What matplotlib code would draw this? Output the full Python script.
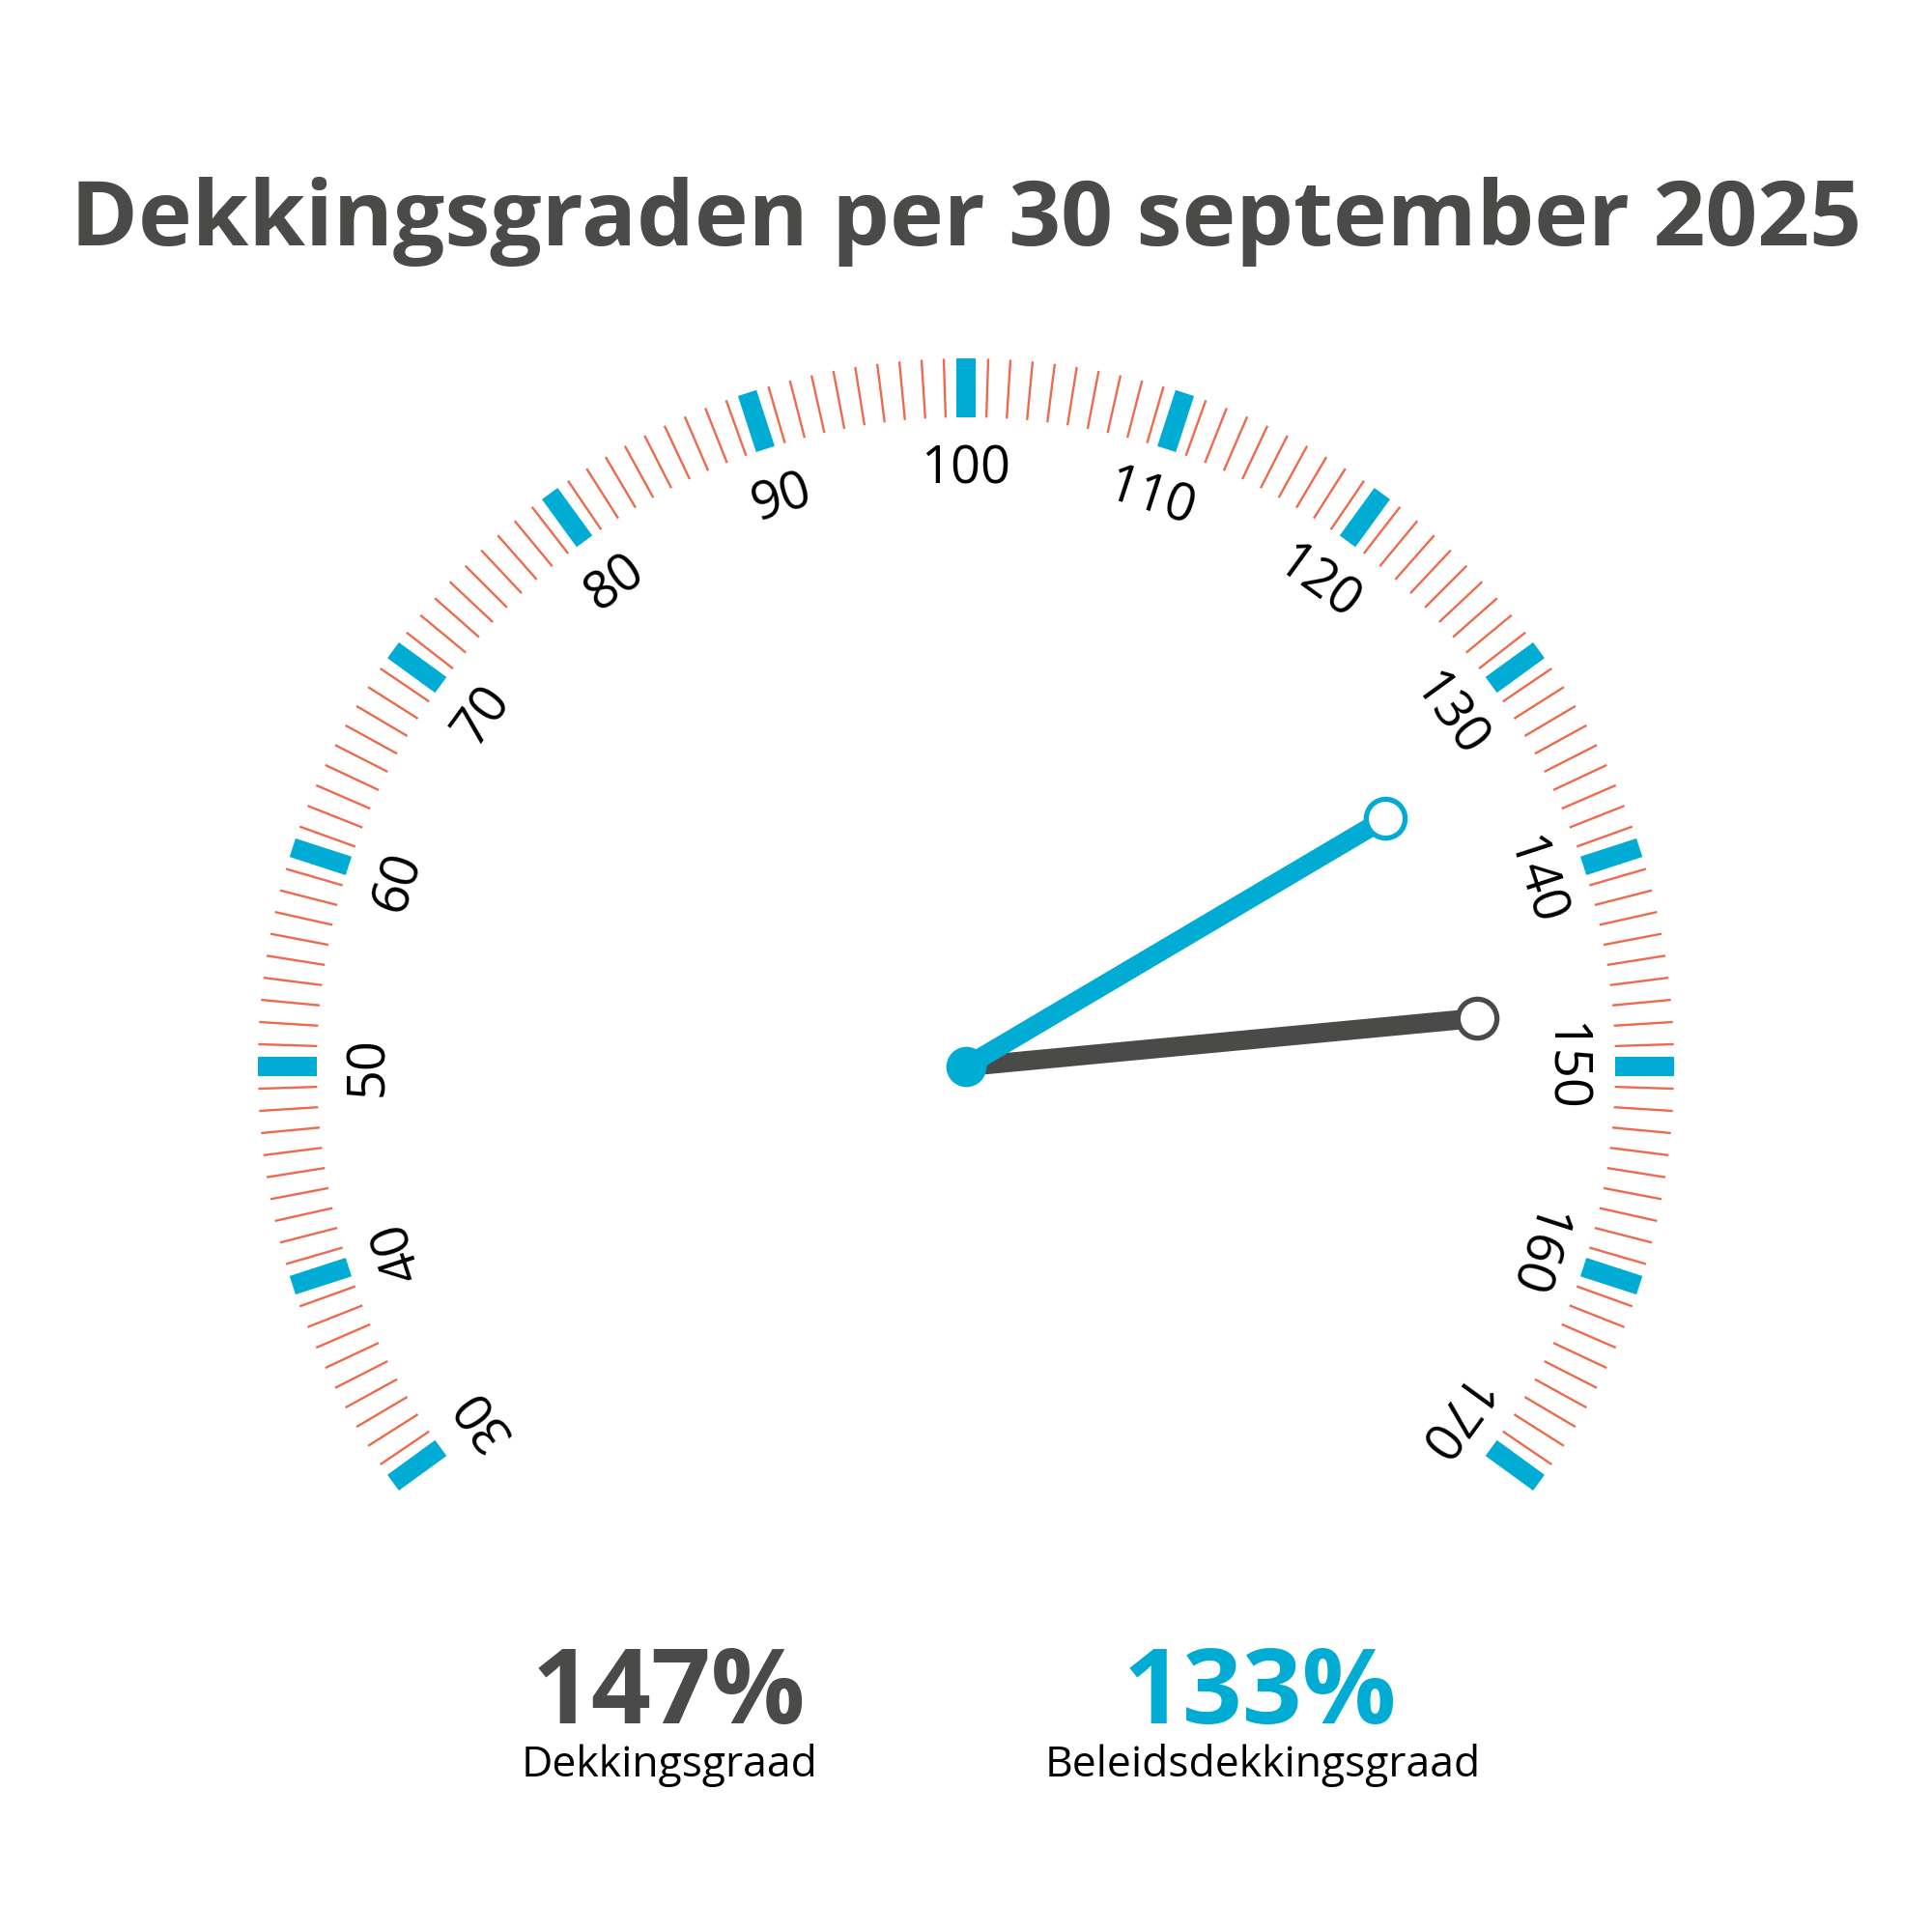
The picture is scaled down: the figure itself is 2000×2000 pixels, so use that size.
import numpy as np
import matplotlib.pyplot as plt

# gauge data
scale_min = 30
scale_max = 170
major_values = list(range(30, 171, 10))
minor_values = [v for v in range(30, 171) if v % 10 != 0]

dekkingsgraad = 147
beleidsdekkingsgraad = 133
value_labels = ["Dekkingsgraad", "Beleidsdekkingsgraad"]
title = "Dekkingsgraden per 30 september 2025"

blue = "#00acd4"
dark = "#4a4a49"
orange = "#ef6a4c"

plt.rcParams['font.family'] = ['Open Sans', 'DejaVu Sans']

fig = plt.figure(figsize=(20, 20), dpi=100)
ax = fig.add_axes([0, 0, 1, 1])
ax.set_xlim(0, 2000)
ax.set_ylim(0, 2000)
ax.set_aspect('equal')
ax.axis('off')

cx, cy = 1000, 896
r_out, tick_len = 733, 61
r_lab = 618


def angle(v):
    # 100 straight up, 1.8 degrees per unit
    return np.deg2rad(90 - (v - 100) * 1.8)


def polar(v, r):
    a = angle(v)
    return cx + r * np.cos(a), cy + r * np.sin(a)


for v in minor_values:
    x0, y0 = polar(v, r_out - tick_len)
    x1, y1 = polar(v, r_out)
    ax.plot([x0, x1], [y0, y1], color=orange, lw=1.7, solid_capstyle='butt')

for v in major_values:
    x0, y0 = polar(v, r_out - tick_len)
    x1, y1 = polar(v, r_out)
    ax.plot([x0, x1], [y0, y1], color=blue, lw=14.5, solid_capstyle='butt')
    lx, ly = polar(v, r_lab)
    ax.text(lx, ly, str(v), fontsize=39, color='black',
            rotation=np.rad2deg(angle(v)) - 90, rotation_mode='anchor',
            ha='center', va='center')

# needles
ex, ey = polar(dekkingsgraad, 531)
ax.plot([cx, ex], [cy, ey], color=dark, lw=14.5, solid_capstyle='butt', zorder=3)
ax.plot(ex, ey, 'o', ms=29, mfc='white', mec=dark, mew=3.8, zorder=4)

bx, by = polar(beleidsdekkingsgraad, 504)
ax.plot([cx, bx], [cy, by], color=blue, lw=14.5, solid_capstyle='butt', zorder=5)
ax.plot(bx, by, 'o', ms=29, mfc='white', mec=blue, mew=3.8, zorder=6)
ax.plot(cx, cy, 'o', ms=29, color=blue, zorder=7)

ax.text(1000, 1746, title, fontsize=68, fontweight='bold', color=dark,
        ha='center', va='baseline')

ax.text(692, 216, f"{dekkingsgraad}%", fontsize=78, fontweight='bold', color=dark,
        ha='center', va='baseline')
ax.text(693, 161, value_labels[0], fontsize=32, color='black',
        ha='center', va='baseline')
ax.text(1304, 216, f"{beleidsdekkingsgraad}%", fontsize=78, fontweight='bold', color=blue,
        ha='center', va='baseline')
ax.text(1307, 161, value_labels[1], fontsize=32, color='black',
        ha='center', va='baseline')

fig.savefig("out.png", dpi=100, facecolor='white')
